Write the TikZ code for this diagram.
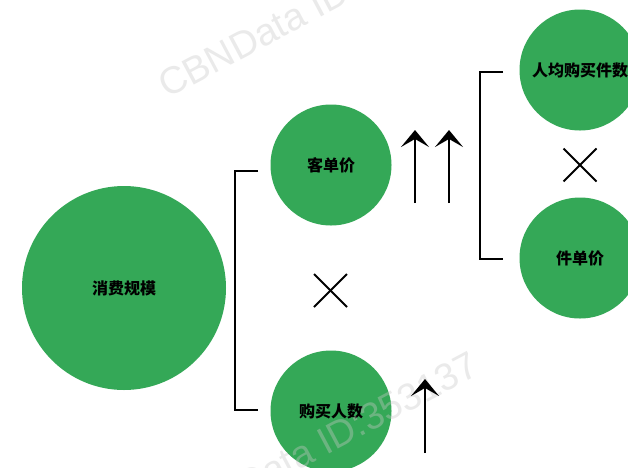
\documentclass[tikz,border=0pt]{standalone}
\usepackage{fontspec}
\newfontfamily\cjk{Noto Sans CJK SC}
\newfontfamily\wm{Liberation Sans}
\usetikzlibrary{arrows.meta,calc}
\definecolor{gr}{RGB}{52,168,87}
\definecolor{wmgray}{RGB}{200,200,200}
\tikzset{
  bubble/.style={circle, fill=gr, draw=none, inner sep=0pt, font=\cjk\bfseries\fontsize{16}{18}\selectfont, text=black},
  brk/.style={line width=2pt, line join=miter},
  crossline/.style={line width=2pt},
  uparrow/.style={line width=2.2pt, -{Stealth[length=17pt,width=28pt,inset=8pt]}},
  watermark/.style={font=\wm\fontsize{38}{42}\selectfont, text=wmgray, text opacity=0.38, rotate=28, inner sep=0pt, anchor=base west}
}
\begin{document}
\begin{tikzpicture}[x=1pt,y=-1pt]
\useasboundingbox (0,0) rectangle (628,467);
\clip (0,0) rectangle (628,467);
\fill[white] (0,0) rectangle (628,467);
% circles
\node[bubble, minimum size=204pt] (scale) at (124,288) {消费规模};
\node[bubble, minimum size=121pt] (price) at (331,165) {客单价};
\node[bubble, minimum size=121pt] (buyers) at (331,411) {购买人数};
\node[bubble, minimum size=121pt] (items) at (580,70) {人均购买件数};
\node[bubble, minimum size=121pt] (unit) at (580,258) {件单价};
% watermarks (faint, over the circles)
\node[watermark] (wm1) at (167,99) {CBNData ID:353137};
\node[watermark] (wm2) at (175,536) {CBNData ID:353137};
% brackets
\draw[brk] (258,171) -- (235,171) -- (235,410) -- (258,410);
\draw[brk] (503,72) -- (480,72) -- (480,259) -- (503,259);
% crosses
\coordinate (x1) at (330.5,290.5);
\draw[crossline] ($(x1)+(-16.5,-16.5)$) -- ($(x1)+(16.5,16.5)$);
\draw[crossline] ($(x1)+(-16.5,16.5)$) -- ($(x1)+(16.5,-16.5)$);
\coordinate (x2) at (580,165);
\draw[crossline] ($(x2)+(-16.5,-16.5)$) -- ($(x2)+(16.5,16.5)$);
\draw[crossline] ($(x2)+(-16.5,16.5)$) -- ($(x2)+(16.5,-16.5)$);
% arrows
\coordinate (a1s) at (415,203); \coordinate (a1e) at (415,130);
\coordinate (a2s) at (449,203); \coordinate (a2e) at (449,130);
\coordinate (a3s) at (425,453); \coordinate (a3e) at (425,379);
\draw[uparrow] (a1s) -- (a1e);
\draw[uparrow] (a2s) -- (a2e);
\draw[uparrow] (a3s) -- (a3e);
\end{tikzpicture}
\end{document}
